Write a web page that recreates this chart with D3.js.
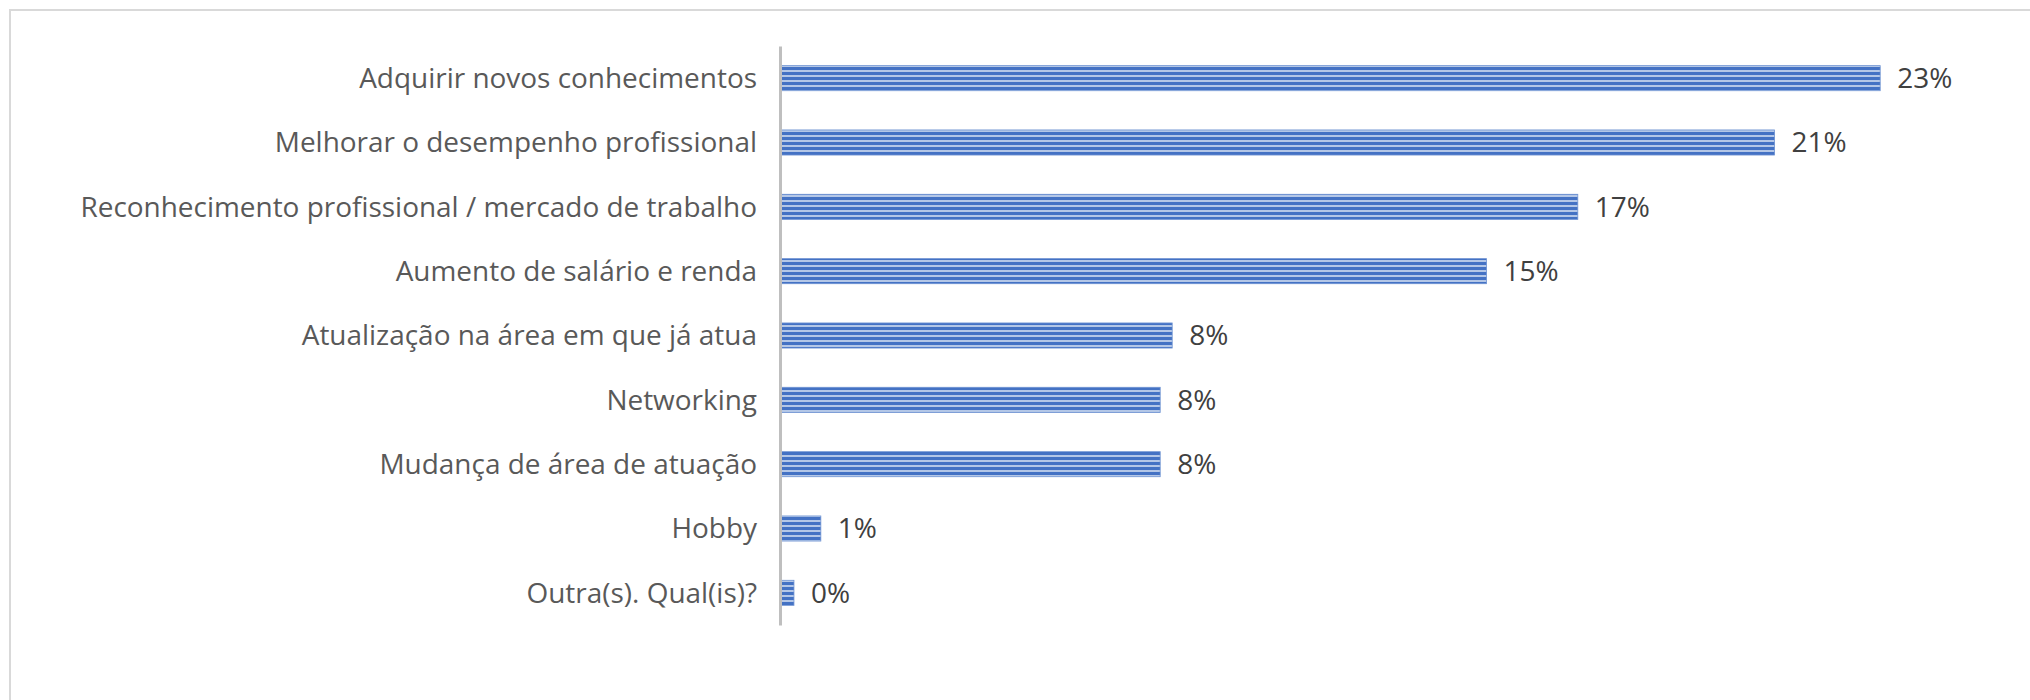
<!DOCTYPE html>
<html>
<head>
<meta charset="utf-8">
<script src="https://cdn.jsdelivr.net/npm/d3@7"></script>
<style>
  html, body { margin: 0; padding: 0; background: #ffffff; }
  svg { display: block; }
</style>
</head>
<body>
<svg id="chart" width="2030" height="700"></svg>
<script>
// Data
const categories = [
  "Adquirir novos conhecimentos",
  "Melhorar o desempenho profissional",
  "Reconhecimento profissional / mercado de trabalho",
  "Aumento de salário e renda",
  "Atualização na área em que já atua",
  "Networking",
  "Mudança de área de atuação",
  "Hobby",
  "Outra(s). Qual(is)?"
];
const values = [22.9, 20.7, 16.6, 14.7, 8.15, 7.9, 7.9, 0.83, 0.27];
const valueLabels = ["23%", "21%", "17%", "15%", "8%", "8%", "8%", "1%", "0%"];

const svg = d3.select("#chart");
const W = 2030, H = 700;

// Chart area border (extends past the right/bottom edges, as in the reference)
svg.append("rect")
  .attr("x", 10).attr("y", 10)
  .attr("width", 2200).attr("height", 900)
  .attr("fill", "#ffffff")
  .attr("stroke", "#d9d9d9").attr("stroke-width", 2);

// Pattern: narrow horizontal stripes
const defs = svg.append("defs");
const pat = defs.append("pattern")
  .attr("id", "stripes")
  .attr("patternUnits", "userSpaceOnUse")
  .attr("width", 10).attr("height", 5);
pat.append("rect").attr("width", 10).attr("height", 5).attr("fill", "#4472c4");
pat.append("rect").attr("y", 0).attr("width", 10).attr("height", 2).attr("fill", "#b4c7e7");

const x = d3.scaleLinear().domain([0, 25]).range([781, 1981]);
const y = d3.scaleBand().domain(categories).range([46, 625])
  .paddingInner(0.61).paddingOuter(0.305);

const fontFamily = "'Open Sans', 'Liberation Sans', sans-serif";

// Bars
svg.append("g").selectAll("rect")
  .data(categories)
  .join("rect")
  .attr("x", x(0))
  .attr("y", d => y(d))
  .attr("width", (d, i) => x(values[i]) - x(0))
  .attr("height", y.bandwidth())
  .attr("fill", "url(#stripes)")
  .attr("stroke", "#6f93d3")
  .attr("stroke-width", 0.8);

// Axis (vertical category axis)
const yAxis = d3.axisLeft(y).tickSize(0).tickPadding(23);
const gAxis = svg.append("g")
  .attr("transform", `translate(${x(0) - 1},0)`)
  .call(yAxis);
gAxis.select(".domain").attr("stroke", "#bfbfbf").attr("stroke-width", 3);
gAxis.selectAll("text")
  .attr("fill", "#595959")
  .style("font-family", fontFamily)
  .attr("dy", "0.35em");

// Fit font size so the longest label spans ~677px
const texts = gAxis.selectAll("text");
texts.style("font-size", "100px");
let maxW = 0;
texts.each(function() { maxW = Math.max(maxW, this.getComputedTextLength()); });
const fs = Math.min(32, 100 * 677 / maxW);
texts.style("font-size", fs + "px");

// Value labels
svg.append("g").selectAll("text")
  .data(categories)
  .join("text")
  .attr("x", (d, i) => x(values[i]) + 17)
  .attr("y", d => y(d) + y.bandwidth() / 2)
  .attr("dy", "0.35em")
  .attr("fill", "#404040")
  .style("font-family", fontFamily)
  .style("font-size", fs + "px")
  .text((d, i) => valueLabels[i]);
</script>
</body>
</html>
